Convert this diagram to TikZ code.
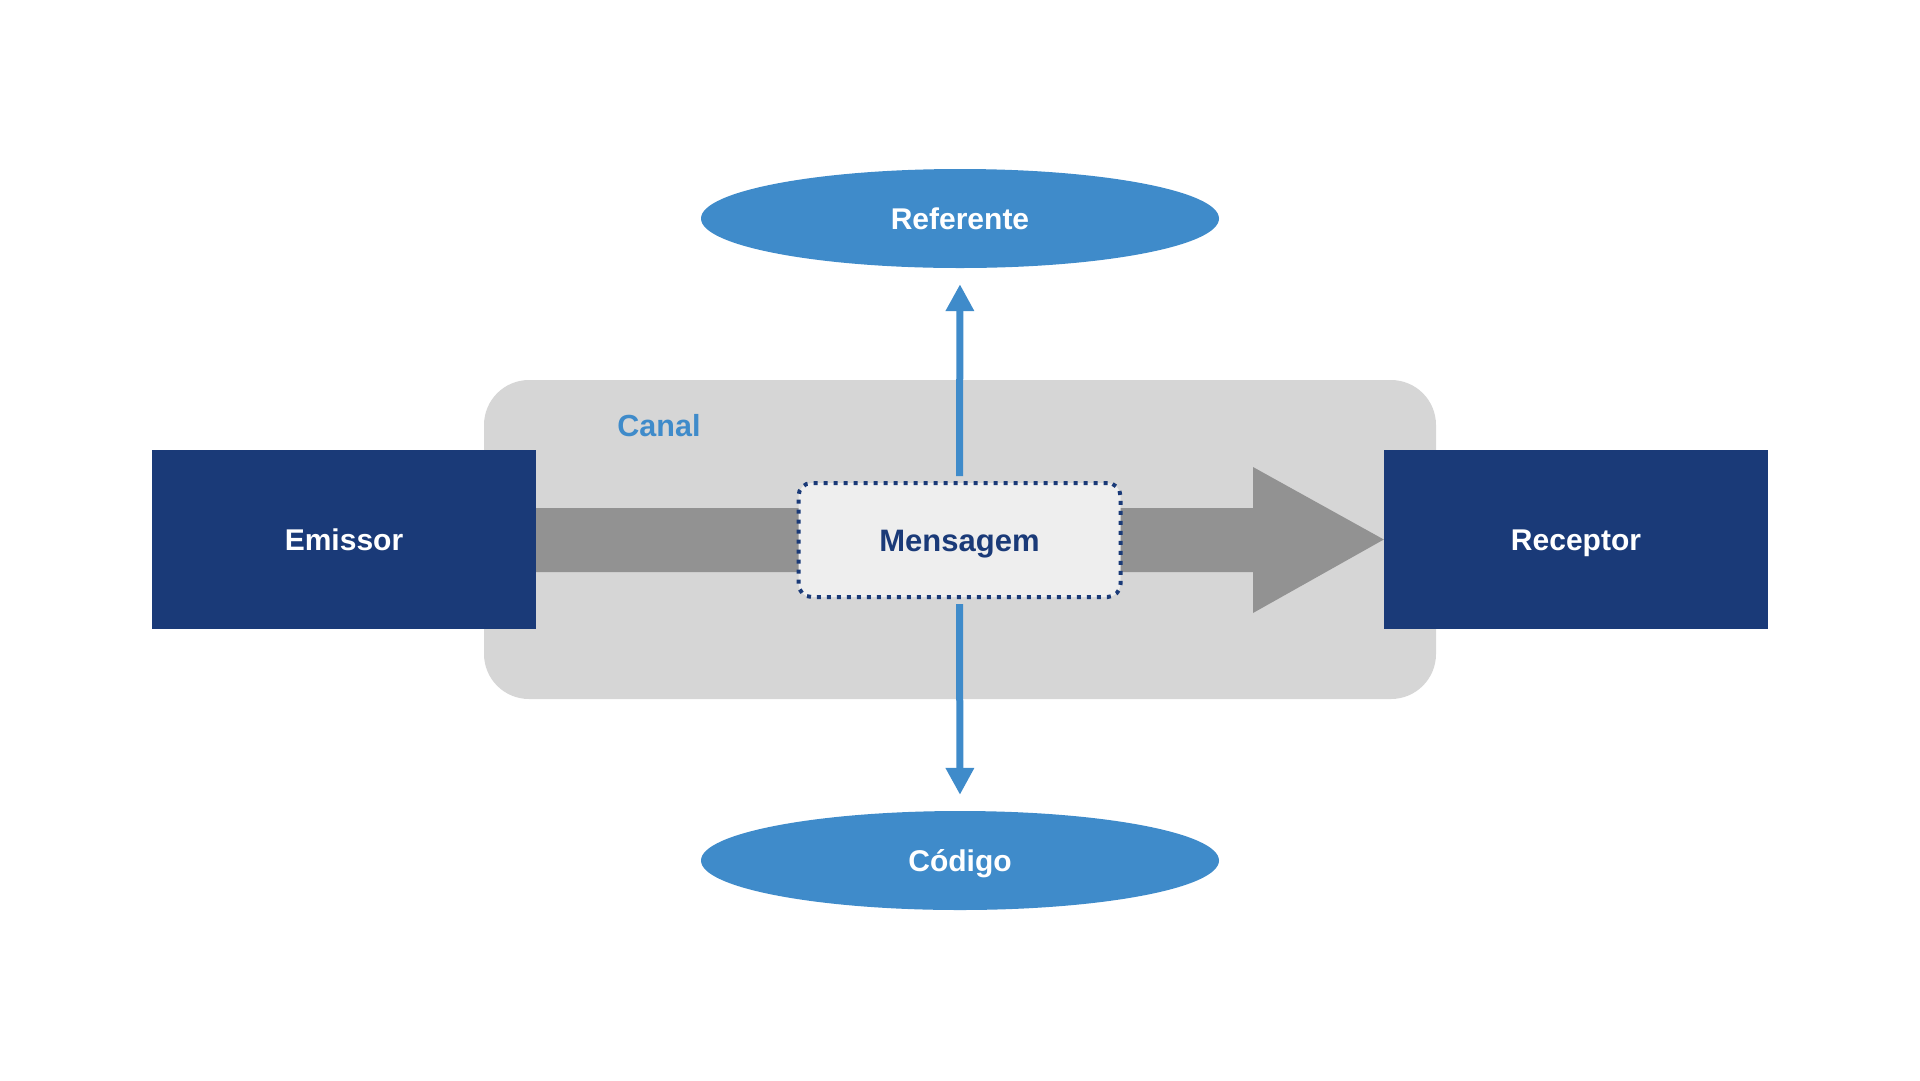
\documentclass[tikz,border=0pt]{standalone}
\usepackage{fontspec}
\setmainfont{Liberation Sans}
\usetikzlibrary{arrows.meta,shapes.geometric}
\definecolor{navy}{HTML}{1A3A78}
\definecolor{sky}{HTML}{3F8BCA}
\definecolor{canalgray}{HTML}{D6D6D6}
\definecolor{arrowgray}{HTML}{929292}
\definecolor{msgfill}{HTML}{EEEEEE}
\begin{document}
\begin{tikzpicture}[x=1pt,y=-1pt,
  capstext/.style={text height=21.5pt, text depth=0pt},
  party/.style={fill=navy, minimum width=384pt, minimum height=179pt, inner sep=0pt,
    text=white, font=\fontsize{30}{36}\selectfont\bfseries, capstext},
  topic/.style={ellipse, fill=sky, minimum width=518pt, minimum height=99pt, inner sep=0pt,
    text=white, font=\fontsize{30}{36}\selectfont\bfseries, capstext},
  canalbox/.style={fill=canalgray, rounded corners=45pt, minimum width=952pt, minimum height=319pt, inner sep=0pt},
  msgbox/.style={fill=msgfill, draw=navy, line width=4pt, dash pattern=on 4pt off 6pt,
    rounded corners=13pt, minimum width=322pt, minimum height=114pt, inner sep=0pt,
    text=navy, font=\fontsize{31}{36}\selectfont\bfseries, text height=22.2pt, text depth=0pt},
  link/.style={draw=sky, line width=7pt, -{Triangle[length=27pt,width=27pt]},
    shorten <=5pt, shorten >=16pt}
]
\useasboundingbox (0,0) rectangle (1920,1080);
% channel background
\node[canalbox] (canal) at (960,539.5) {};
\node[anchor=base, text=sky, font=\fontsize{30.5}{36}\selectfont\bfseries] (canallabel) at (659,436) {Canal};
% parties
\node[party] (emissor) at (344,539.5) {Emissor};
\node[party] (receptor) at (1576,539.5) {Receptor};
% big gray arrow
\coordinate (s1) at (536,508);
\coordinate (s2) at (536,572);
\fill[arrowgray] (s1) -- (1253,508) -- (1253,467) -- (receptor.west) -- (1253,613) -- (1253,572) -- (s2) -- cycle;
% message
\node[msgbox] (mensagem) at (959.5,540) {Mensagem};
% referent and code
\node[topic] (referente) at (960,218.5) {Referente};
\node[topic] (codigo) at (960,860.5) {Código};
\draw[link] (mensagem.north) -- (referente.south);
\draw[link] (mensagem.south) -- (codigo.north);
\end{tikzpicture}
\end{document}
